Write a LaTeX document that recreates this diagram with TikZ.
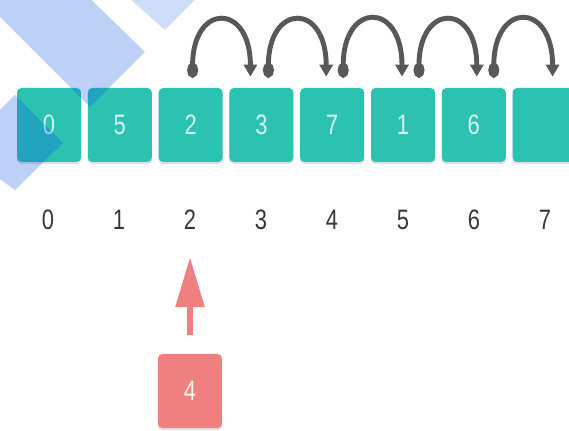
\documentclass[tikz,border=0pt]{standalone}
\usepackage{fontspec}
\setmainfont{Liberation Sans}[FakeStretch=0.78]
\usetikzlibrary{arrows.meta,shadows}

\definecolor{cellteal}{RGB}{44,194,178}
\definecolor{insred}{RGB}{240,128,128}
\definecolor{hopgray}{RGB}{88,88,88}
\definecolor{stripeblue}{RGB}{10,85,225}
\definecolor{celltext}{RGB}{215,245,240}
\definecolor{idxgray}{RGB}{55,55,55}

\begin{document}
\begin{tikzpicture}[
  x=0.02cm, y=-0.02cm,
  cell/.style={fill=#1, rounded corners=2.5pt, minimum width=1.28cm,
               minimum height=1.48cm, inner sep=0pt, text=celltext,
               font=\fontsize{16}{18}\selectfont,
               drop shadow={shadow xshift=0pt, shadow yshift=-1.2pt, opacity=0.25}},
  idx/.style={inner sep=0pt, text=idxgray, font=\fontsize{16}{18}\selectfont},
  hop/.style={draw=hopgray, line width=2.8pt,
              {Circle[length=0.3cm,width=0.22cm]}-{Triangle[length=0.24cm,width=0.26cm]}},
  ins/.style={draw=insred, line width=3.2pt, -{Triangle[length=1cm,width=0.56cm]}},
  stripe/.style={fill=stripeblue, fill opacity=#1, draw=none}
]
  \useasboundingbox (0,0) rectangle (569,431);
  \clip (0,0) rectangle (569,431);

  % Tableau et indices
  \foreach \v [count=\i from 0] in {0,5,2,3,7,1,6,{}} {
    \node[cell=cellteal] (c\i) at (49+70.8*\i,125) {\v};
    \node[idx] (i\i) at (48+71*\i,220) {\i};
  }

  % Décalages vers la droite
  \foreach \a/\b/\s/\e in {2/3/2/-11, 3/4/7/-6, 4/5/11/-1, 5/6/16/3, 6/7/20/8}
    \draw[hop] ([xshift=\s*0.02cm, yshift=0.2cm]c\a.north)
      to[out=90, in=90, looseness=3.3] ([xshift=\e*0.02cm, yshift=0.22cm]c\b.north);

  % Élément à insérer
  \node[cell=insred, text=white!90!insred] (r) at (190,391) {4};
  \draw[ins, shorten <=0.38cm, shorten >=0.54cm] (r.north) -- (i2.south);

  % Bandes de fond
  \path[stripe=0.27] (40,-50) -- (145,52) -- (90,107) -- (-30,-13) -- cycle;
  \path[stripe=0.27] (63,143) -- (15,95) -- (-40,150) -- (15,190) -- cycle;
  \path[stripe=0.2] (120,-10) -- (165,30) -- (205,-10) -- cycle;
\end{tikzpicture}
\end{document}
